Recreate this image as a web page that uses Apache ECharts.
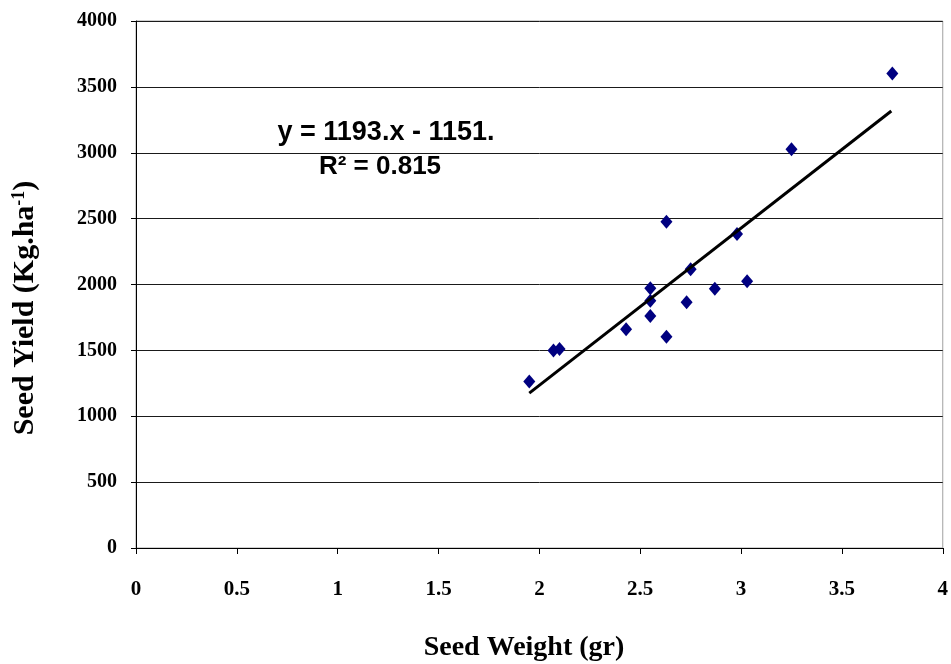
<!DOCTYPE html>
<html>
<head>
<meta charset="utf-8">
<script src="https://cdn.jsdelivr.net/npm/echarts@6/dist/echarts.min.js"></script>
<style>html,body{margin:0;padding:0;background:#fff}#c{width:951px;height:664px}</style>
</head>
<body>
<div id="c"></div>
<script>
// Data
const seedWeight = [1.95, 2.07, 2.10, 2.43, 2.55, 2.55, 2.55, 2.63, 2.63, 2.73, 2.75, 2.87, 2.98, 3.03, 3.25, 3.75];
const seedYield  = [1263, 1500, 1510, 1660, 1971, 1877, 1761, 1604, 2476, 1865, 2115, 1968, 2383, 2024, 3027, 3601];
const trendX = [1.95, 3.745];
const slope = 1193, intercept = -1151;
const trendY = trendX.map(x => slope * x + intercept);
const xTicks = ['0', '0.5', '1', '1.5', '2', '2.5', '3', '3.5', '4'];
const yTicks = ['0', '500', '1000', '1500', '2000', '2500', '3000', '3500', '4000'];

const chart = echarts.init(document.getElementById('c'), null, {renderer: 'canvas'});
const serif = '"Liberation Serif", "Times New Roman", serif';
const sans = '"Liberation Sans", Arial, sans-serif';
chart.setOption({
  animation: false,
  grid: {left: 136, right: 7, top: 21, bottom: 116, show: true, borderColor: '#a0a0a0', borderWidth: 1},
  xAxis: {
    type: 'value', min: 0, max: 4, interval: 0.5,
    axisLine: {show: true, lineStyle: {color: '#000', width: 1}},
    axisTick: {show: true, length: 6, lineStyle: {color: '#000'}},
    axisLabel: {fontFamily: serif, fontWeight: 'bold', fontSize: 21, color: '#000', margin: 31,
      formatter: v => xTicks[Math.round(v / 0.5)]},
    splitLine: {show: false}
  },
  yAxis: {
    type: 'value', min: 0, max: 4000, interval: 500,
    axisLine: {show: true, lineStyle: {color: '#000', width: 1}},
    axisTick: {show: true, length: 5, lineStyle: {color: '#000'}},
    axisLabel: {fontFamily: serif, fontWeight: 'bold', fontSize: 20, color: '#000', margin: 19,
      formatter: v => yTicks[Math.round(v / 500)]},
    splitLine: {show: true, lineStyle: {color: '#1a1a1a', width: 1}}
  },
  series: [
    {
      type: 'scatter', symbol: 'diamond', symbolSize: [12, 14],
      itemStyle: {color: '#000080', opacity: 1},
      data: seedWeight.map((x, i) => [x, seedYield[i]]), z: 3
    },
    {
      type: 'line', showSymbol: false, symbol: 'none',
      lineStyle: {color: '#000', width: 3},
      data: trendX.map((x, i) => [x, trendY[i]]), z: 4
    }
  ],
  graphic: [
    {type: 'text', x: 386, y: 133, style: {text: 'y = 1193.x - 1151.', font: 'bold 27px ' + sans, fill: '#000', align: 'center', verticalAlign: 'middle'}},
    {type: 'text', x: 380, y: 167, style: {text: 'R² = 0.815', font: 'bold 26px ' + sans, fill: '#000', align: 'center', verticalAlign: 'middle'}},
    {type: 'text', x: 524, y: 648, style: {text: 'Seed Weight (gr)', font: 'bold 28px ' + serif, fill: '#000', align: 'center', verticalAlign: 'middle'}},
    {type: 'text', x: 25, y: 308, rotation: Math.PI / 2,
      style: {
        text: '{a|Seed Yield (Kg.ha}{s|-1}{a|)}', align: 'center', verticalAlign: 'middle',
        rich: {
          a: {fontFamily: serif, fontWeight: 'bold', fontSize: 30, fill: '#000'},
          s: {fontFamily: serif, fontWeight: 'bold', fontSize: 18, fill: '#000', verticalAlign: 'top'}
        }
      }}
  ]
});
</script>
</body>
</html>
